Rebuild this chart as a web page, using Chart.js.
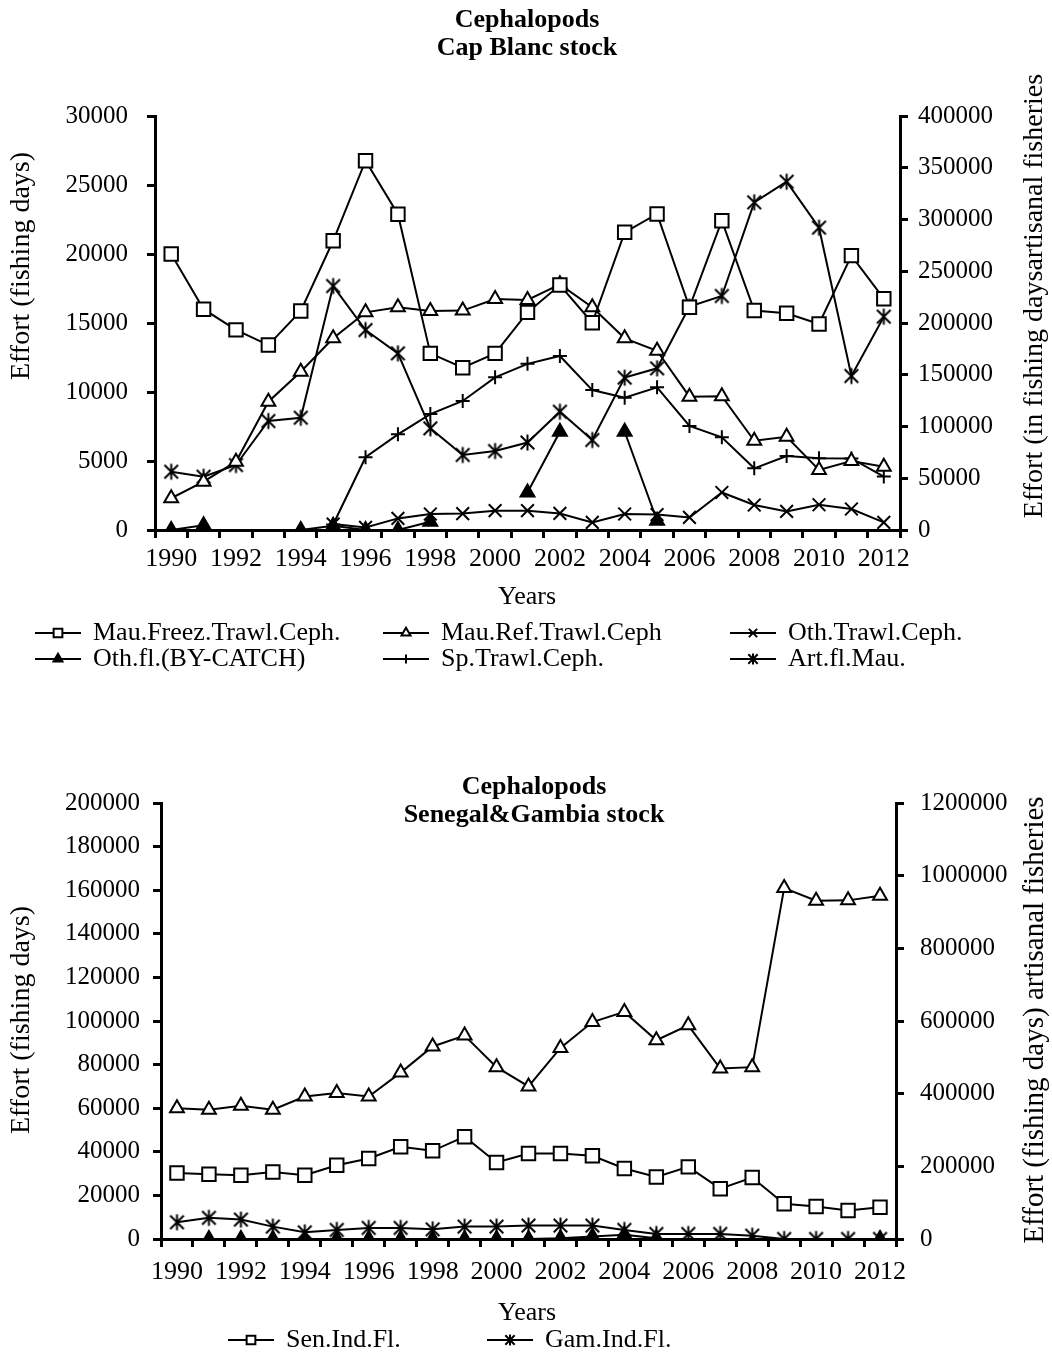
<!DOCTYPE html>
<html>
<head>
<meta charset="utf-8">
<script src="https://cdn.jsdelivr.net/npm/chart.js@4"></script>
<style>
  html, body { margin: 0; padding: 0; background: #fff; }
  #wrap { position: relative; width: 1052px; height: 1364px; }
  .box { position: absolute; left: 0; width: 1052px; }
  #topBox { top: 0; height: 700px; }
  #botBox { top: 700px; height: 664px; }
</style>
</head>
<body>
<div id="wrap">
  <div class="box" id="topBox"><canvas id="capBlanc"></canvas></div>
  <div class="box" id="botBox"><canvas id="senegal"></canvas></div>
</div>
<script>
const years = ["1990","1991","1992","1993","1994","1995","1996","1997","1998","1999","2000","2001",
  "2002","2003","2004","2005","2006","2007","2008","2009","2010","2011","2012"];

// Cap Blanc stock (left axis: fishing days, right axis: artisanal)
const mauFreez = [20000, 16000, 14500, 13400, 15870, 20960, 26760, 22880, 12800, 11760, 12800, 15770,
  17750, 15020, 21570, 22900, 16140, 22410, 15900, 15700, 14930, 19880, 16760];
const mauRef = [2300, 3500, 4950, 9300, 11470, 13890, 15770, 16140, 15870, 15900, 16740, 16670,
  17800, 16140, 13890, 12990, 9660, 9700, 6470, 6760, 4350, 5000, 4590];
const othTrawl = [null, null, null, null, null, 430, 190, 840, 1160, 1190, 1400, 1400,
  1200, 550, 1160, 1120, 910, 2720, 1810, 1350, 1830, 1520, 550];
const othByCatch = [0, 350, null, null, 0, 300, 0, 0, 600, null, null, 2720,
  7120, null, 7120, 670, null, null, null, null, null, null, null];
const spTrawl = [null, null, null, null, null, 400, 5270, 6930, 8400, 9350, 11060, 12040,
  12610, 10140, 9590, 10340, 7540, 6720, 4470, 5360, 5200, 5190, 3870];
const artMau = [56300, 51500, 62800, 105300, 108500, 235700, 193200, 170700, 98200, 72500, 76300, 84500,
  114300, 87000, 147200, 156200, 215800, 226100, 316600, 336500, 292100, 148800, 206100];

// Senegal & Gambia stock
const senInd = [30300, 29700, 29240, 30760, 29240, 33860, 36950, 42300, 40460, 46930, 35100, 39260,
  39260, 38150, 32330, 28450, 33070, 23090, 28170, 16160, 14920, 13070, 14600];
const gamInd = [7670, 9700, 8910, 5680, 3050, 4160, 5080, 5080, 4430, 5680, 5680, 6140,
  6140, 6140, 4160, 2310, 2310, 2310, 1520, 0, 0, 0, 0];
const senArt = [360000, 356000, 367000, 356000, 392000, 402000, 392000, 458000, 530000, 560000, 473000, 420000,
  526000, 597000, 625000, 547000, 588000, 469000, 473000, 966000, 931000, 932000, 945000];
const senOther = [null, 0, 0, 0, 0, 0, 0, 0, 0, 0, 0, 0,
  300, 1200, 2000, 300, null, null, null, null, null, null, 0];

const SERIF = "'Liberation Serif', 'Times New Roman', serif";

function makeAsterisk(size) {
  const c = document.createElement("canvas");
  c.width = size; c.height = size;
  const g = c.getContext("2d");
  const m = size / 2, d = size / 2 - 1.5, k = d * 0.85;
  g.strokeStyle = "#000";
  g.lineWidth = 2;
  g.beginPath();
  g.moveTo(m, m - d); g.lineTo(m, m + d);
  g.moveTo(m - k, m - k); g.lineTo(m + k, m + k);
  g.moveTo(m + k, m - k); g.lineTo(m - k, m + k);
  g.stroke();
  return c;
}
const asterisk = makeAsterisk(19);
const asteriskSmall = makeAsterisk(14);

function series(label, data, style, opts = {}) {
  return Object.assign({
    label, data,
    borderColor: "#000",
    borderWidth: 2,
    tension: 0,
    spanGaps: false,
    pointStyle: style,
    pointRadius: 8,
    pointBorderWidth: 2,
    pointBorderColor: "#000",
    pointBackgroundColor: "#fff",
    yAxisID: "y"
  }, opts);
}

const textPlugin = {
  id: "texts",
  afterDraw(chart, args, opts) {
    const ctx = chart.ctx;
    ctx.save();
    ctx.fillStyle = "#000";
    ctx.textBaseline = "middle";
    (opts.items || []).forEach(t => {
      ctx.save();
      ctx.font = t.font;
      ctx.textAlign = t.align || "center";
      ctx.translate(t.x, t.y);
      if (t.rot) ctx.rotate(t.rot);
      ctx.fillText(t.text, 0, 0);
      ctx.restore();
    });
    (opts.legend || []).forEach(e => {
      const ds = chart.data.datasets[e.index];
      ctx.strokeStyle = "#000";
      ctx.lineWidth = 2;
      ctx.beginPath();
      ctx.moveTo(e.x, e.y);
      ctx.lineTo(e.x + 46, e.y);
      ctx.stroke();
      ctx.fillStyle = ds.pointBackgroundColor;
      const style = ds.pointStyle === asterisk ? asteriskSmall : ds.pointStyle;
      Chart.helpers.drawPoint(ctx, {
        pointStyle: style, radius: ds.pointRadius * 0.65, borderWidth: 2, rotation: 0
      }, e.x + 23, e.y);
      ctx.fillStyle = "#000";
      ctx.font = "26px " + SERIF;
      ctx.textAlign = "left";
      ctx.fillText(ds.label, e.x + 58, e.y);
    });
    ctx.restore();
  }
};

function axisY(min, max, step, position, width, pad) {
  return {
    type: "linear", position, min, max,
    afterFit: s => { s.width = width; },
    ticks: { stepSize: step, color: "#000", padding: pad, font: { family: SERIF, size: 25 },
      callback: v => String(v) },
    grid: { display: true, drawOnChartArea: false, drawTicks: true, tickLength: 8, color: "#000", lineWidth: 3 },
    border: { display: true, color: "#000", width: 3 }
  };
}

function axisX(pad) {
  return {
    type: "category", offset: true,
    afterFit: s => { s.height = 80; },
    ticks: { autoSkip: false, maxRotation: 0, color: "#000", padding: pad, font: { family: SERIF, size: 26 },
      callback: (v, i) => (i % 2 === 0 ? years[i] : "") },
    grid: { display: true, offset: true, drawOnChartArea: false, drawTicks: true, tickLength: 8, color: "#000", lineWidth: 3 },
    border: { display: true, color: "#000", width: 3 }
  };
}

const baseOpts = (padTop, padBottom) => ({
  responsive: true,
  maintainAspectRatio: false,
  animation: false,
  layout: { padding: { top: padTop, bottom: padBottom, left: 0, right: 0 } },
  plugins: { legend: { display: false }, tooltip: { enabled: false }, title: { display: false } }
});

// ---- Cap Blanc ----
const capOpts = baseOpts(116, 90);
capOpts.scales = {
  x: axisX(6),
  y: axisY(0, 30000, 5000, "left", 155, 19),
  y1: axisY(0, 400000, 50000, "right", 152, 10)
};
capOpts.plugins.texts = {
  items: [
    { text: "Cephalopods", x: 527, y: 20, font: "bold 26px " + SERIF },
    { text: "Cap Blanc stock", x: 527, y: 48, font: "bold 26px " + SERIF },
    { text: "Effort (fishing days)", x: 22, y: 266, rot: -Math.PI / 2, font: "28px " + SERIF },
    { text: "Effort (in fishing daysartisanal fisheries", x: 1035, y: 296, rot: -Math.PI / 2, font: "28px " + SERIF },
    { text: "Years", x: 527, y: 597, font: "26px " + SERIF }
  ],
  legend: [
    { index: 0, x: 35, y: 633 }, { index: 1, x: 383, y: 633 }, { index: 2, x: 730, y: 633 },
    { index: 3, x: 35, y: 659 }, { index: 4, x: 383, y: 659 }, { index: 5, x: 730, y: 659 }
  ]
};

new Chart(document.getElementById("capBlanc"), {
  type: "line",
  data: {
    labels: years,
    datasets: [
      series("Mau.Freez.Trawl.Ceph.", mauFreez, "rect", { pointRadius: 9.5 }),
      series("Mau.Ref.Trawl.Ceph", mauRef, "triangle", { pointRadius: 8 }),
      series("Oth.Trawl.Ceph.", othTrawl, "crossRot", { pointRadius: 9 }),
      series("Oth.fl.(BY-CATCH)", othByCatch, "triangle", { pointRadius: 8, pointBackgroundColor: "#000" }),
      series("Sp.Trawl.Ceph.", spTrawl, "cross", { pointRadius: 7 }),
      series("Art.fl.Mau.", artMau, asterisk, { yAxisID: "y1" })
    ]
  },
  options: capOpts,
  plugins: [textPlugin]
});

// ---- Senegal & Gambia ----
const senOpts = baseOpts(103, 45);
senOpts.scales = {
  x: axisX(10),
  y: axisY(0, 200000, 20000, "left", 161, 13),
  y1: axisY(0, 1200000, 200000, "right", 156, 16)
};
senOpts.plugins.texts = {
  items: [
    { text: "Cephalopods", x: 534, y: 87, font: "bold 26px " + SERIF },
    { text: "Senegal&Gambia stock", x: 534, y: 115, font: "bold 26px " + SERIF },
    { text: "Effort (fishing days)", x: 22, y: 320, rot: -Math.PI / 2, font: "28px " + SERIF },
    { text: "Effort (fishing days) artisanal fisheries", x: 1035, y: 320, rot: -Math.PI / 2, font: "29px " + SERIF },
    { text: "Years", x: 527, y: 613, font: "26px " + SERIF }
  ],
  legend: [
    { index: 0, x: 228, y: 640 }, { index: 1, x: 487, y: 640 }
  ]
};

new Chart(document.getElementById("senegal"), {
  type: "line",
  data: {
    labels: years,
    datasets: [
      series("Sen.Ind.Fl.", senInd, "rect", { pointRadius: 9.5 }),
      series("Gam.Ind.Fl.", gamInd, asterisk),
      series("Artisanal", senArt, "triangle", { pointRadius: 8, yAxisID: "y1" }),
      series("Other", senOther, "triangle", { pointRadius: 8, pointBackgroundColor: "#000" })
    ]
  },
  options: senOpts,
  plugins: [textPlugin]
});
</script>
</body>
</html>
